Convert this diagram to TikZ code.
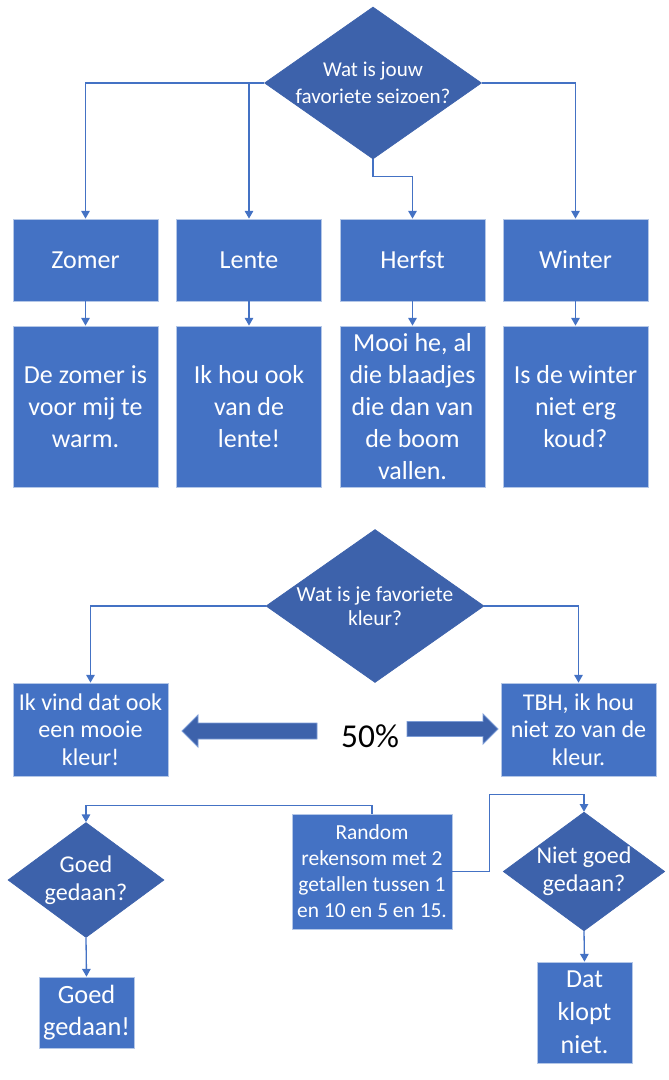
\documentclass[tikz,border=0pt]{standalone}
\usepackage{fontspec}
\setmainfont{Carlito}
\usepackage{tikz}
\usetikzlibrary{arrows.meta,positioning,calc,shapes.geometric}
\definecolor{ofBlue}{RGB}{68,114,196}
\definecolor{ofDark}{RGB}{61,98,171}
\definecolor{ofEdge}{RGB}{180,199,231}
\newcommand{\fsz}[2]{\fontsize{#1}{#2}\selectfont}

\begin{document}
\begin{tikzpicture}[>={Triangle[length=0.155cm,width=0.17cm]}]
\tikzstyle{blk}=[fill=ofBlue, draw=ofEdge, line width=0.4pt, text=white, align=center, inner sep=0pt]
\tikzstyle{ruit}=[shape=diamond, fill=ofDark, draw=ofDark, text=white, align=center, inner sep=0pt]
\tikzstyle{conn}=[->, draw=ofBlue, line width=0.75pt]
\tikzstyle{blockarr}=[fill=ofDark, draw=ofBlue!70!white, line width=0.5pt]
\useasboundingbox (0,0) rectangle (13.36,-21.6);
% seizoenen
\node[ruit, minimum width=4.34cm, minimum height=3.04cm, aspect=1.43, font=\fsz{12pt}{15.2pt}] (seizoen) at (7.46,-1.66) {Wat is jouw\\favoriete seizoen?};
\foreach \x/\nm/\lab in {1.71/zomer/Zomer,4.98/lente/Lente,8.25/herfst/Herfst,11.51/winter/Winter}{\node[blk, minimum width=2.9cm, minimum height=1.64cm, font=\fsz{14.8pt}{18.2pt}] (\nm) at (\x,-5.2) {\lab};}
\node[blk, minimum width=2.9cm, minimum height=3.22cm, font=\fsz{14.8pt}{18.2pt}] (zomer-uitleg) at (1.71,-8.13) {De zomer is\\voor mij te\\warm.};
\node[blk, minimum width=2.9cm, minimum height=3.22cm, font=\fsz{14.8pt}{18.2pt}] (lente-uitleg) at (4.98,-8.13) {Ik hou ook\\van de\\lente!};
\node[blk, minimum width=2.9cm, minimum height=3.22cm, font=\fsz{14.8pt}{18.2pt}] (herfst-uitleg) at (8.25,-8.13) {Mooi he, al\\die blaadjes\\die dan van\\de boom\\vallen.};
\node[blk, minimum width=2.9cm, minimum height=3.22cm, font=\fsz{14.8pt}{18.2pt}] (winter-uitleg) at (11.51,-8.13) {Is de winter\\niet erg\\koud?};
\draw[conn] (seizoen.west) -| (zomer.north);
\draw[conn] (seizoen.west) -| (lente.north);
\draw[conn] (seizoen.south) -- ++(0,-0.34) -| (herfst.north);
\draw[conn] (seizoen.east) -| (winter.north);
\foreach \nm in {zomer,lente,herfst,winter}{\draw[conn] (\nm.south) -- (\nm-uitleg.north);}
% kleur
\node[ruit, minimum width=4.36cm, minimum height=3.06cm, aspect=1.42, font=\fsz{12.2pt}{13.7pt}] (kleur) at (7.5,-12.12) {Wat is je favoriete\\kleur?};
\node[blk, minimum width=3.1cm, minimum height=1.86cm, font=\fsz{13.7pt}{15.8pt}] (mooi) at (1.81,-14.59) {Ik vind dat ook\\een mooie\\kleur!};
\node[blk, minimum width=3.1cm, minimum height=1.86cm, font=\fsz{13.7pt}{15.8pt}] (tbh) at (11.57,-14.59) {TBH, ik hou\\niet zo van de\\kleur.};
\draw[conn] (kleur.west) -| (mooi.north);
\draw[conn] (kleur.east) -| (tbh.north);
\draw[blockarr] (6.34,-14.46) -- (3.96,-14.46) -- (3.96,-14.30) -- (3.64,-14.62) -- (3.96,-14.94) -- (3.96,-14.78) -- (6.34,-14.78) -- cycle;
\draw[blockarr] (8.14,-14.43) -- (9.66,-14.43) -- (9.66,-14.28) -- (9.96,-14.58) -- (9.66,-14.88) -- (9.66,-14.73) -- (8.14,-14.73) -- cycle;
\node[font=\fsz{19pt}{23pt}] (kans) at (7.4,-14.72) {50\%};
% rekensom
\node[ruit, minimum width=3.12cm, minimum height=2.3cm, aspect=1.36, font=\fsz{13.7pt}{16pt}] (goedq) at (1.72,-17.6) {Goed\\gedaan?};
\node[blk, minimum width=3.2cm, minimum height=2.3cm, font=\fsz{12.2pt}{14.8pt}] (som) at (7.44,-17.43) {Random\\rekensom met 2\\getallen tussen 1\\en 10 en 5 en 15.};
\node[ruit, minimum width=3.12cm, minimum height=2.3cm, aspect=1.36, font=\fsz{13.7pt}{16pt}] (nietq) at (11.68,-17.43) {Niet goed\\gedaan?};
\node[blk, minimum width=1.9cm, minimum height=1.42cm, font=\fsz{15pt}{18.2pt}] (goed) at (1.73,-20.25) {Goed\\gedaan!};
\node[blk, minimum width=1.9cm, minimum height=2.02cm, font=\fsz{14.8pt}{18.8pt}] (fout) at (11.69,-20.25) {Dat\\klopt\\niet.};
\draw[conn] (som.north) -- ++(0,0.16) -| (goedq.north);
\draw[conn] (som.east) -- ++(0.74,0) |- ($(nietq.north)+(0,0.34)$) -- (nietq.north);
\draw[conn] (goedq.south) -- (goed.north);
\draw[conn] (nietq.south) -- (fout.north);
\end{tikzpicture}
\end{document}
